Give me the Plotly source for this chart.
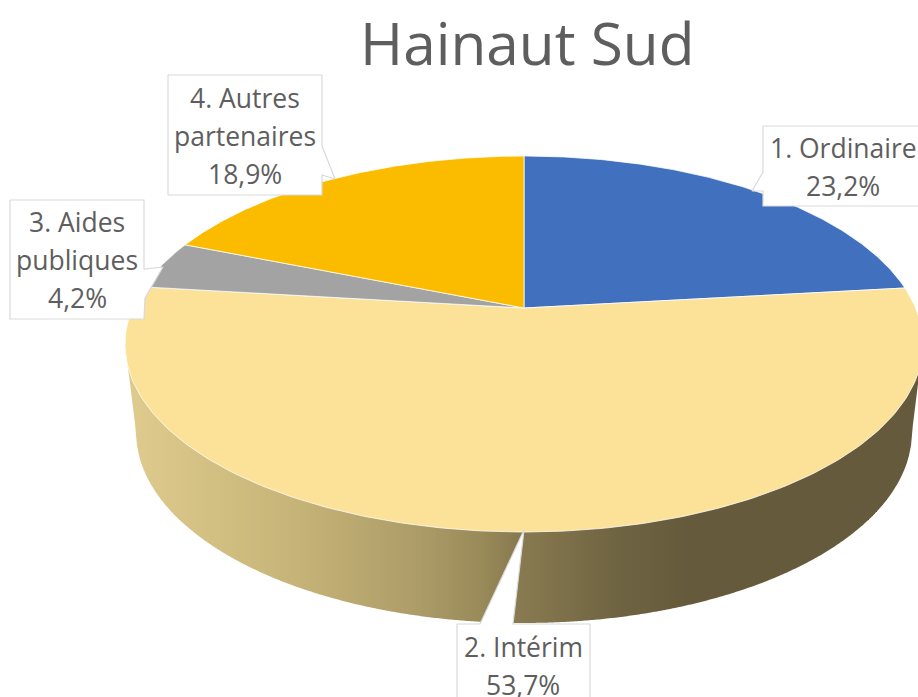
import numpy as np
import plotly.graph_objects as go

TITLE = "Hainaut Sud"
categories = ["1. Ordinaire", "2. Intérim", "3. Aides publiques", "4. Autres partenaires"]
shares = [23.2, 53.7, 4.2, 18.9]
slice_colors = ["#4170BF", "#FBE298", "#A3A3A3", "#FBBC00"]
label_lines = [["1. Ordinaire"], ["2. Intérim"], ["3. Aides", "publiques"], ["4. Autres", "partenaires"]]

# perspective model of the tilted disc
K = 0.1915
CX = 524
TOP = dict(y0=308, a=181.1, b=391.6)
BASE = dict(y0=395.4, a=184.0, b=380.8)


def project(theta, m):
    u, v = np.sin(theta), np.cos(theta)
    d = 1 + K * v
    return CX + m["b"] * u / d, m["y0"] - m["a"] * v / d


def lower_arc(m):
    """Front half of a disc outline, as (x, y) sorted left to right."""
    th = np.radians(np.arange(40, 320, 0.1))
    x, y = project(th, m)
    i0, i1 = np.argmax(x), np.argmin(x)
    x, y = x[i0:i1 + 1][::-1], y[i0:i1 + 1][::-1]
    return x, y


# side wall shading, horizontal gradient
grad_x = [125, 300, 420, 480, 515, 620, 690, 925]
grad_r = [224, 198, 172, 154, 138, 111, 101, 101]
grad_g = [204, 179, 156, 139, 124, 100, 90, 90]
grad_b = [142, 119, 104, 90, 81, 66, 59, 59]

fig = go.Figure()

top_x, top_y = lower_arc(TOP)
base_x, base_y = lower_arc(BASE)
# outer silhouette: top disc extreme, then the base's front arc, then top extreme
hull_x = np.r_[top_x[0], base_x, top_x[-1]]
hull_y = np.r_[top_y[0], base_y, top_y[-1]]
columns = np.arange(np.floor(top_x[0]), 926, 2)
for x0, x1 in zip(columns[:-1], columns[1:]):
    xm = (x0 + x1) / 2
    col = "rgb(%d,%d,%d)" % tuple(np.interp(xm, grad_x, c) for c in (grad_r, grad_g, grad_b))
    up0, up1 = np.interp([x0, x1], top_x, top_y) - 1
    lo0, lo1 = np.interp([x0, x1], hull_x, hull_y)
    fig.add_trace(go.Scatter(x=[x0, x1, x1, x0, x0], y=[up0, up1, lo1, lo0, up0],
                             mode="lines", fill="toself", fillcolor=col,
                             line=dict(width=0), hoverinfo="skip", showlegend=False))

# top face slices, clockwise from 12 o'clock
start = 0.0
for name, value, color in zip(categories, shares, slice_colors):
    end = start + value / sum(shares) * 2 * np.pi
    th = np.linspace(start, end, 200)
    xs, ys = project(th, TOP)
    fig.add_trace(go.Scatter(x=[CX, *xs, CX], y=[TOP["y0"], *ys, TOP["y0"]], mode="lines",
                             fill="toself", fillcolor=color, name=name,
                             line=dict(color="rgba(255,255,255,0.75)", width=1),
                             hoverinfo="name", showlegend=False))
    start = end

# label boxes with callouts: outline of each data label
boxes = [
    ([763, 763, 752, 763, 763, 935, 935, 763], [126, 172, 191, 191, 206, 206, 126, 126]),
    ([457, 480, 524, 513, 590, 590, 457, 457], [624, 624, 530, 624, 624, 705, 705, 624]),
    ([10, 144, 144, 163, 145, 144, 10, 10], [200, 200, 269, 267, 298, 319, 319, 200]),
    ([168, 322, 322, 335, 322, 322, 168, 168], [75, 75, 146, 179, 175, 195, 195, 75]),
]
for bx, by in boxes:
    fig.add_trace(go.Scatter(x=bx, y=by, mode="lines", fill="toself", fillcolor="#FFFFFF",
                             line=dict(color="#D9D9D9", width=1.2), hoverinfo="skip", showlegend=False))

# label text anchors: centre x, first line y
anchors = [(843, 148), (523, 647), (77, 222), (245, 98)]
LINE_STEP = 38
LABEL_FONT = dict(family="Open Sans", size=26.5, color="#5E5E5E")
annotations = [dict(x=527, y=42, text=TITLE, showarrow=False, xref="x", yref="y",
                    font=dict(family="Open Sans", size=58.5, color="#5E5E5E"))]
for lines, value, (ax, ay) in zip(label_lines, shares, anchors):
    rows = lines + [f"{value:.1f}".replace(".", ",") + "%"]
    for i, row in enumerate(rows):
        annotations.append(dict(x=ax, y=ay + i * LINE_STEP, text=row, showarrow=False,
                                xref="x", yref="y", font=LABEL_FONT))

fig.update_layout(
    width=918, height=697, margin=dict(l=0, r=0, t=0, b=0),
    paper_bgcolor="#FFFFFF", plot_bgcolor="#FFFFFF", showlegend=False,
    xaxis=dict(range=[0, 918], visible=False, fixedrange=True),
    yaxis=dict(range=[697, 0], visible=False, fixedrange=True),
    annotations=annotations,
)
fig.write_html("out.html", post_script="document.body.style.margin='0';document.body.style.overflow='hidden';",
               config={"displayModeBar": False})
